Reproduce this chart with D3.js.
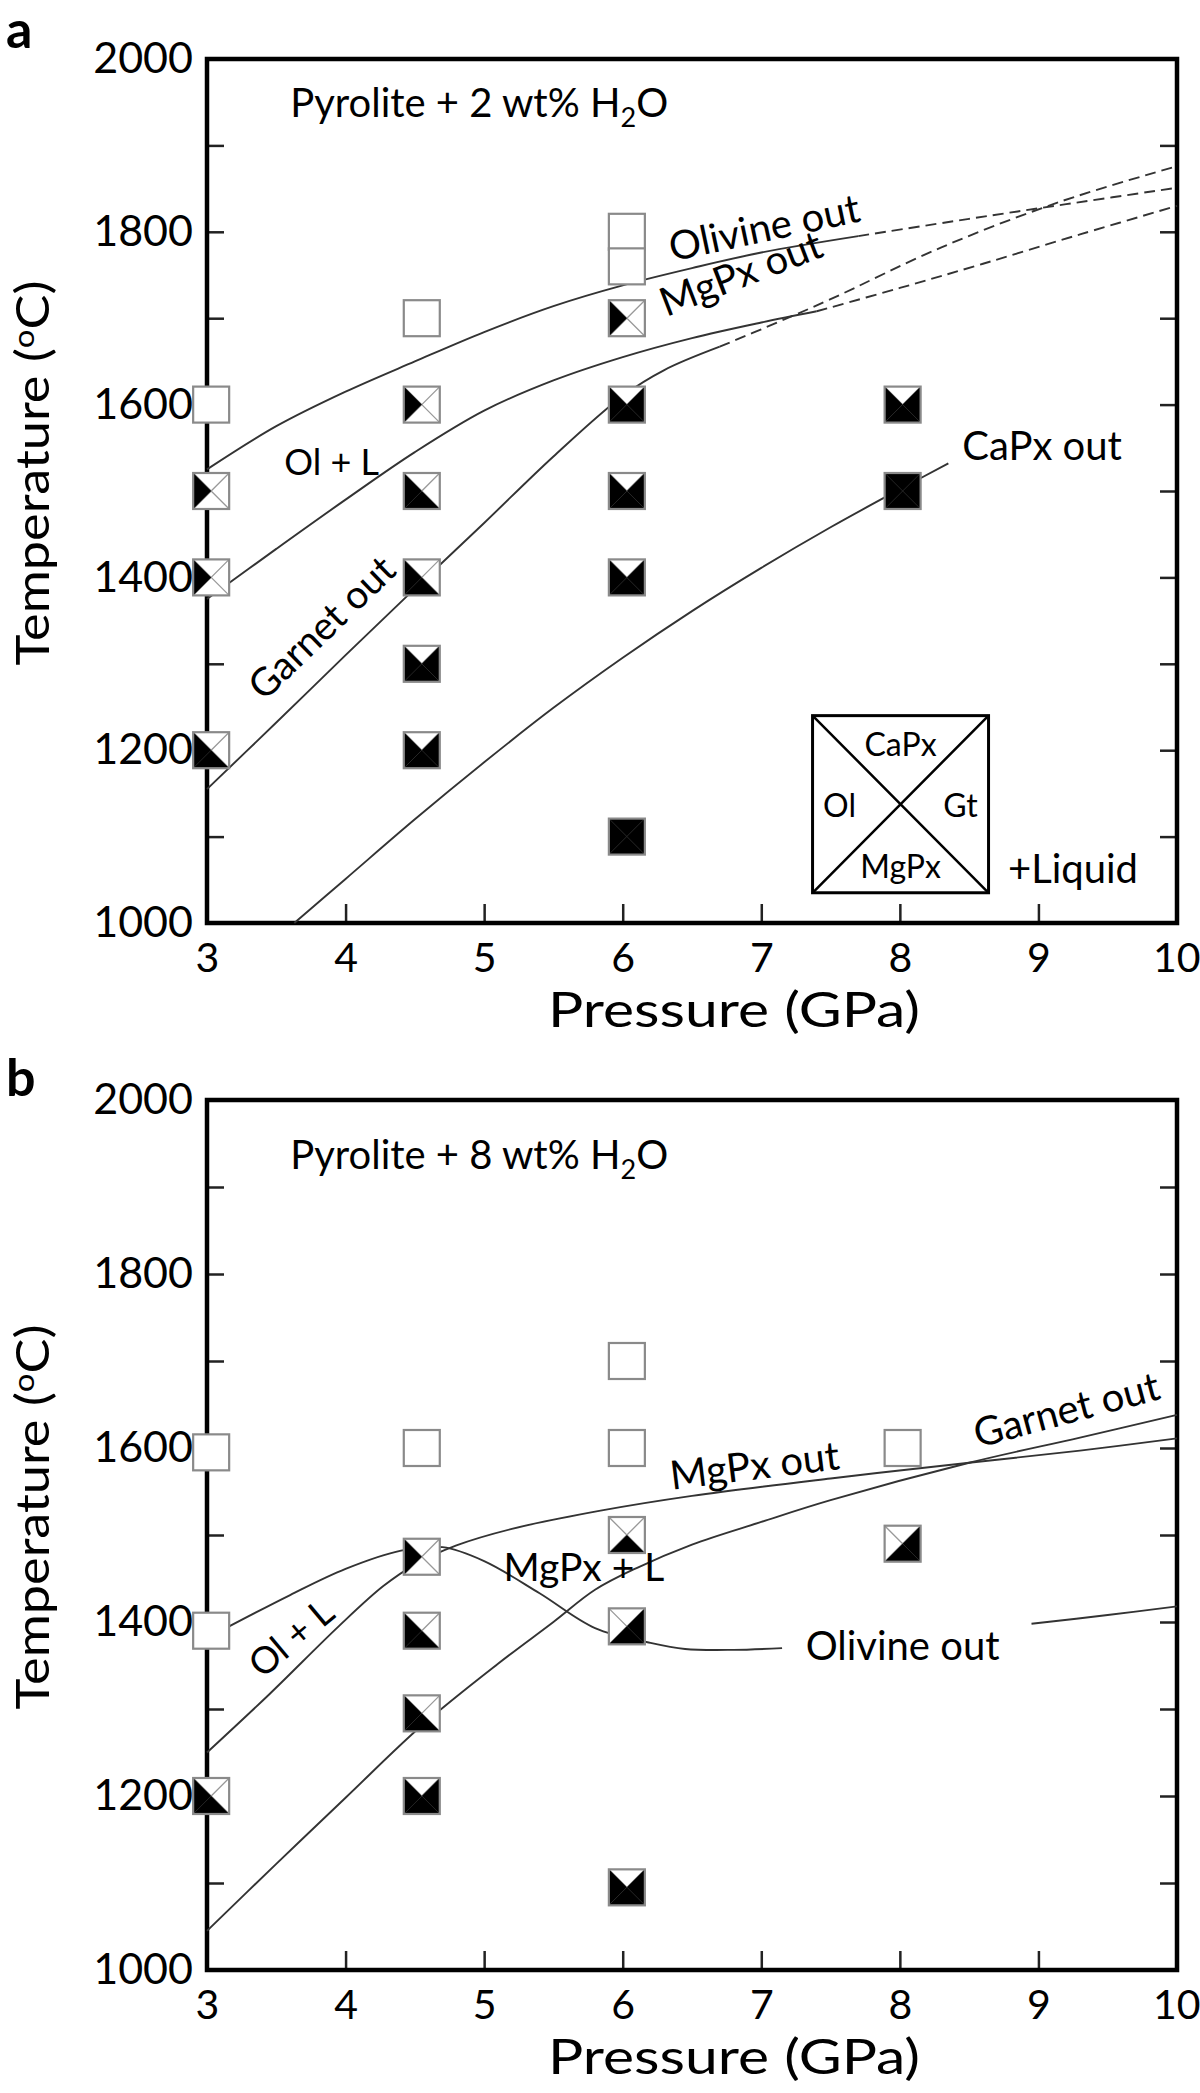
<!DOCTYPE html>
<html><head><meta charset="utf-8">
<script src="https://cdn.jsdelivr.net/npm/d3@7"></script>
<style>
html,body{margin:0;padding:0;background:#fff;}
svg{display:block;}
text{font-family:Lato,"Open Sans",sans-serif;fill:#000;}
</style></head>
<body><svg id="chart" width="1200" height="2093"></svg>
<script>
// ---------- data ----------
const xTicks = [3,4,5,6,7,8,9,10];
const yTickLabels = [1000,1200,1400,1600,1800,2000];
const yMinor = [1000,1100,1200,1300,1400,1500,1600,1700,1800,1900,2000];

// Panel a: experiments (P GPa, T C, phases: O=olivine, M=MgPx, G=garnet, C=CaPx)
const aP = [3.03,3.03,3.03,3.03, 4.55,4.55,4.55,4.55,4.55,4.55, 6.03,6.03,6.03,6.03,6.03,6.03,6.03, 8.02,8.02];
const aT = [1600,1500,1400,1200, 1700,1600,1500,1400,1300,1200, 1800,1760,1700,1600,1500,1400,1100, 1600,1500];
const aPh = ["","O","O","OM", "","O","OM","OM","OMG","OMG", "","","O","OMG","OMG","OMG","OMGC", "OMG","OMGC"];

// Panel a: phase boundaries
const aOlivineSolid = [[3,1525],[3.5,1575],[4,1615],[4.5,1650],[5,1684],[5.5,1714],[6,1738],[6.5,1758],[7,1776],[7.7,1795]];
const aOlivineDash  = [[7.7,1795],[8.5,1815],[9.2,1832],[10,1851]];
const aMgPxSolid = [[3,1375],[3.5,1433],[4,1490],[4.5,1545],[5,1593],[5.5,1628],[6,1655],[6.5,1677],[7,1695],[7.4,1708]];
const aMgPxDash  = [[7.4,1708],[8,1735],[8.6,1763],[9.3,1797],[10,1830]];
const aGarnetSolid = [[3,1155],[3.5,1232],[4,1310],[4.5,1387],[5,1463],[5.5,1540],[6,1610],[6.3,1640],[6.7,1667]];
const aGarnetDash  = [[6.7,1667],[7.1,1694],[7.5,1722],[8.3,1782],[9.16,1835],[10,1876]];
const aCaPx = [[3.63,1000],[4,1051],[4.5,1120],[5,1186],[5.5,1249],[6,1307],[6.5,1361],[7,1411],[7.5,1458],[8,1502],[8.35,1532]];

// Panel b: experiments
const bP = [3.03,3.03,3.03, 4.55,4.55,4.55,4.55,4.55, 6.03,6.03,6.03,6.03,6.03, 8.02,8.02];
const bT = [1595,1390,1200, 1600,1475,1390,1295,1200, 1700,1600,1500,1395,1095, 1600,1490];
const bPh = ["","","OM", "","O","OM","OM","OMG", "","","M","MG","OMG", "","MG"];

// Panel b: phase boundaries
const bOlivine1 = [[3.1,1390],[3.6,1431],[4,1461],[4.4,1482],[4.7,1486],[5,1470],[5.4,1433],[5.8,1393],[6.2,1376],[6.45,1369],[6.8,1368],[7.15,1370]];
const bOlivine2 = [[8.95,1398],[9.5,1408],[10,1418]];
const bMgPx = [[3,1250],[3.45,1317],[3.95,1395],[4.27,1441],[4.5,1466],[4.8,1488],[5.2,1507],[5.84,1528],[6.5,1545],[7.5,1565],[8.5,1583],[9.3,1597],[10,1611]];
const bGarnet = [[3,1045],[3.5,1122],[4,1198],[4.55,1281],[5.1,1352],[5.5,1400],[5.8,1437],[6.1,1462],[6.5,1489],[7,1515],[7.5,1540],[8.5,1583],[9.3,1612],[10,1638]];

// ---------- drawing ----------
const svg = d3.select("#chart");
const L = 207, R = 1177;
const panels = [
  {top:59, bottom:923, letter:"a", letterY:48, title:"2", titleT:1933},
  {top:1100, bottom:1970, letter:"b", letterY:1096, title:"8", titleT:1921}
];

function setup(p){
  const x = d3.scaleLinear().domain([3,10]).range([L,R]);
  const y = d3.scaleLinear().domain([1000,2000]).range([p.bottom,p.top]);
  const g = svg.append("g");
  const yl = d3.axisLeft(y).tickValues(yMinor).tickSizeInner(-17).tickSizeOuter(0).tickPadding(14)
      .tickFormat(d => yTickLabels.includes(d) ? d : "");
  const ga = g.append("g").attr("transform",`translate(${L},0)`).call(yl);
  const yr = d3.axisRight(y).tickValues(yMinor).tickSizeInner(-17).tickSizeOuter(0).tickFormat("");
  const gr = g.append("g").attr("transform",`translate(${R},0)`).call(yr);
  const xb = d3.axisBottom(x).tickValues(xTicks).tickSizeInner(-19).tickSizeOuter(0).tickPadding(19).tickFormat(d3.format("d"));
  const gb = g.append("g").attr("transform",`translate(0,${p.bottom})`).call(xb);
  [ga,gr,gb].forEach(a=>{
    a.select(".domain").remove();
    a.selectAll(".tick line").attr("stroke","#222").attr("stroke-width",2.5);
    a.selectAll(".tick text").attr("font-family","Lato").attr("fill","#000");
  });
  ga.selectAll(".tick text").attr("font-size",43);
  gb.selectAll(".tick text").attr("font-size",41).attr("dy","0.72em");
  gb.selectAll(".tick text").filter(d=>d===10).attr("text-anchor","end").attr("x",23);
  g.append("rect").attr("x",L).attr("y",p.top).attr("width",R-L).attr("height",p.bottom-p.top)
    .attr("fill","none").attr("stroke","#000").attr("stroke-width",4.5);
  svg.append("text").attr("x",6).attr("y",p.letterY).text(p.letter)
    .attr("font-family","'Liberation Sans',Arial,sans-serif").attr("font-weight","bold").attr("font-size",52);
  // y title
  const yt = svg.append("text").attr("transform",`translate(49,${(p.top+p.bottom)/2-18}) rotate(-90)`)
    .attr("text-anchor","middle").attr("font-size",46).attr("textLength",385).attr("lengthAdjust","spacingAndGlyphs");
  yt.append("tspan").text("Temperature (");
  yt.append("tspan").text("o").attr("font-size",29).attr("dy",-15);
  yt.append("tspan").text("C)").attr("dy",15);
  // x title
  svg.append("text").attr("x",(L+R)/2+42).attr("y",p.bottom+104).attr("text-anchor","middle")
    .attr("font-size",48).attr("textLength",372).attr("lengthAdjust","spacingAndGlyphs").text("Pressure (GPa)");
  // panel title
  const tt = g.append("text").attr("x",x(3.6)).attr("y",y(p.titleT)).attr("font-size",40);
  tt.append("tspan").text(`Pyrolite + ${p.title} wt% H`);
  tt.append("tspan").text("2").attr("font-size",27).attr("dy",10);
  tt.append("tspan").text("O").attr("dy",-10);
  return {x,y,g};
}

function drawLine(ctx, data, dashed){
  const gen = d3.line().x(d=>ctx.x(d[0])).y(d=>ctx.y(d[1])).curve(d3.curveCatmullRom.alpha(0.5));
  ctx.g.append("path").attr("d",gen(data)).attr("fill","none").attr("stroke","#333")
    .attr("stroke-width",1.9).attr("stroke-dasharray", dashed ? "11,6" : null);
}

function drawSymbols(ctx, P, T, Ph){
  const s = 36, h = s/2;
  const tri = {
    C:`M${-h},${-h}L${h},${-h}L0,0Z`,
    M:`M${-h},${h}L${h},${h}L0,0Z`,
    O:`M${-h},${-h}L${-h},${h}L0,0Z`,
    G:`M${h},${-h}L${h},${h}L0,0Z`
  };
  const idx = d3.range(P.length);
  const sym = ctx.g.selectAll(null).data(idx).enter().append("g")
    .attr("transform", i=>`translate(${ctx.x(P[i])},${ctx.y(T[i])})`);
  sym.append("rect").attr("x",-h).attr("y",-h).attr("width",s).attr("height",s).attr("fill","#fff");
  sym.filter(i=>Ph[i].length>0).append("path")
    .attr("d",`M${-h},${-h}L${h},${h}M${h},${-h}L${-h},${h}`).attr("stroke","#999").attr("stroke-width",1.3);
  sym.each(function(i){
    const gg = d3.select(this);
    for (const c of Ph[i]) gg.append("path").attr("d",tri[c]).attr("fill","#000");
  });
  sym.append("rect").attr("x",-h).attr("y",-h).attr("width",s).attr("height",s)
    .attr("fill","none").attr("stroke","#8a8a8a").attr("stroke-width",2.2);
}

function label(ctx, txt, P, T, rot, size, anchor){
  ctx.g.append("text").attr("transform",`translate(${ctx.x(P)},${ctx.y(T)}) rotate(${rot})`)
    .attr("text-anchor",anchor||"middle").attr("dominant-baseline","central").attr("font-size",size).text(txt);
}

// ----- panel a -----
const A = setup(panels[0]);
drawLine(A, aOlivineSolid, false); drawLine(A, aOlivineDash, true);
drawLine(A, aMgPxSolid, false); drawLine(A, aMgPxDash, true);
drawLine(A, aGarnetSolid, false); drawLine(A, aGarnetDash, true);
drawLine(A, aCaPx, false);
drawSymbols(A, aP, aT, aPh);
label(A, "Olivine out", 7.02, 1806, -12, 40);
label(A, "MgPx out", 6.85, 1753, -21, 40);
label(A, "CaPx out", 8.45, 1553, 0, 40, "start");
label(A, "Garnet out", 3.82, 1343, -44, 39);
label(A, "Ol + L", 3.9, 1535, 0, 36);
// legend box
const lx0 = A.x(7.37), lx1 = A.x(8.64), ly0 = A.y(1240), ly1 = A.y(1035);
A.g.append("rect").attr("x",lx0).attr("y",ly0).attr("width",lx1-lx0).attr("height",ly1-ly0)
  .attr("fill","none").attr("stroke","#000").attr("stroke-width",3);
A.g.append("path").attr("d",`M${lx0},${ly0}L${lx1},${ly1}M${lx1},${ly0}L${lx0},${ly1}`).attr("stroke","#000").attr("stroke-width",2.5);
const lcx = (lx0+lx1)/2, lcy = (ly0+ly1)/2;
const legTxt = (t,xx,yy)=>A.g.append("text").attr("x",xx).attr("y",yy).attr("text-anchor","middle")
  .attr("dominant-baseline","central").attr("font-size",32).text(t);
legTxt("CaPx", lcx, ly0+28);
legTxt("Ol", lx0+27, lcy);
legTxt("Gt", lx1-28, lcy);
legTxt("MgPx", lcx, ly1-27);
A.g.append("text").attr("x",A.x(8.78)).attr("y",A.y(1064)).attr("dominant-baseline","central")
  .attr("font-size",40).text("+Liquid");

// ----- panel b -----
const B = setup(panels[1]);
drawLine(B, bOlivine1, false); drawLine(B, bOlivine2, false);
drawLine(B, bMgPx, false); drawLine(B, bGarnet, false);
drawSymbols(B, bP, bT, bPh);
label(B, "Ol + L", 3.6, 1383, -40, 37);
label(B, "MgPx + L", 5.72, 1464, 0, 39);
label(B, "MgPx out", 6.95, 1581, -7, 40);
label(B, "Garnet out", 9.2, 1645, -15, 40);
label(B, "Olivine out", 7.32, 1374, 0, 40, "start");
</script>
</body></html>
